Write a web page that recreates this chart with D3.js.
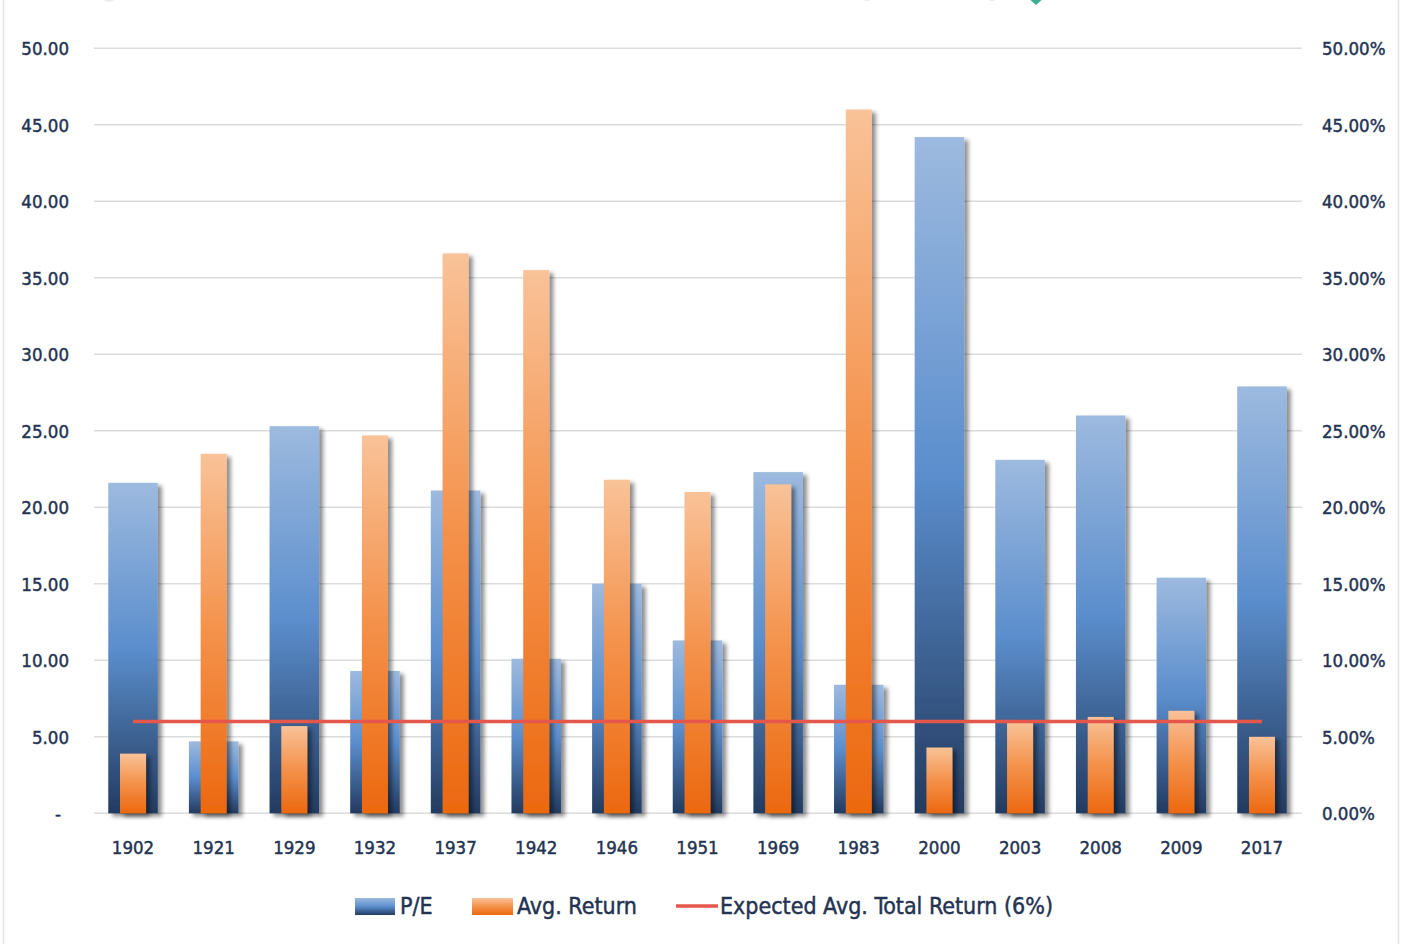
<!DOCTYPE html>
<html>
<head>
    <meta charset="UTF-8">
    <title>P/E vs Avg. Return</title>
    <style>
        body { margin: 0; background: #fff; }
        text { font-family: "DejaVu Sans Condensed", "Liberation Sans Narrow", "Open Sans", sans-serif; fill: #243352; stroke: #243352; stroke-width: 0.45px; }
    </style>
</head>
<body>
    <script src="https://cdn.jsdelivr.net/npm/d3@7"></script>
    <svg id="chart" width="1410" height="944"></svg>

    <script>
        // data
        const years = ["1902", "1921", "1929", "1932", "1937", "1942", "1946", "1951", "1969", "1983", "2000", "2003", "2008", "2009", "2017"];
        const pe = [21.6, 4.7, 25.3, 9.3, 21.1, 10.1, 15.0, 11.3, 22.3, 8.4, 44.2, 23.1, 26.0, 15.4, 27.9];
        const avgReturn = [3.9, 23.5, 5.7, 24.7, 36.6, 35.5, 21.8, 21.0, 21.5, 46.0, 4.3, 6.0, 6.3, 6.7, 5.0];
        const expectedReturn = 6;
        const leftTicks = [0, 5, 10, 15, 20, 25, 30, 35, 40, 45, 50];
        const rightTicks = [0, 5, 10, 15, 20, 25, 30, 35, 40, 45, 50];
        const legendItems = ["P/E", "Avg. Return", "Expected Avg. Total Return (6%)"];

        const svg = d3.select("#chart");
        const width = 1410, height = 944;

        const x = d3.scaleBand().domain(years).range([92.7, 1302.3]);
        const yLeft = d3.scaleLinear().domain([0, 50]).range([813.3, 48.3]);
        const yRight = d3.scaleLinear().domain([0, 50]).range([813.3, 48.3]);

        const defs = svg.append("defs");

        // blue gradient, per bar
        const gBlue = defs.append("linearGradient").attr("id", "gBlue")
            .attr("x1", 0).attr("y1", 0).attr("x2", 0).attr("y2", 1);
        gBlue.append("stop").attr("offset", "0%").attr("stop-color", "#9dbadf");
        gBlue.append("stop").attr("offset", "50%").attr("stop-color", "#5b8ecd");
        gBlue.append("stop").attr("offset", "100%").attr("stop-color", "#233b60");

        const gOrange = defs.append("linearGradient").attr("id", "gOrange")
            .attr("x1", 0).attr("y1", 0).attr("x2", 0).attr("y2", 1);
        gOrange.append("stop").attr("offset", "0%").attr("stop-color", "#f9c298");
        gOrange.append("stop").attr("offset", "50%").attr("stop-color", "#f4914a");
        gOrange.append("stop").attr("offset", "100%").attr("stop-color", "#ec680f");

        const shadow = defs.append("filter").attr("id", "shadow")
            .attr("x", "-20%").attr("y", "-5%").attr("width", "160%").attr("height", "115%");
        shadow.append("feDropShadow").attr("dx", 4).attr("dy", 3).attr("stdDeviation", 2)
            .attr("flood-color", "#000").attr("flood-opacity", 0.45);

        // frame
        svg.append("line").attr("x1", 3.5).attr("x2", 3.5).attr("y1", 0).attr("y2", height)
            .attr("stroke", "#e2e2e2").attr("stroke-width", 1.5);
        svg.append("line").attr("x1", 1398.5).attr("x2", 1398.5).attr("y1", 0).attr("y2", height)
            .attr("stroke", "#e2e2e2").attr("stroke-width", 1.5);

        // bits of the cut-off header
        svg.append("circle").attr("cx", 109).attr("cy", -6).attr("r", 8).attr("fill", "#ececec");
        svg.append("circle").attr("cx", 867).attr("cy", -6).attr("r", 7).attr("fill", "#ececec");
        svg.append("circle").attr("cx", 992).attr("cy", -6).attr("r", 7).attr("fill", "#ececec");
        svg.append("path").attr("d", "M1027,-3 L1036,5 L1045,-3 Z").attr("fill", "#3fae8e");

        // gridlines
        svg.append("g").selectAll("line").data(leftTicks).join("line")
            .attr("x1", 94).attr("x2", 1302)
            .attr("y1", d => yLeft(d)).attr("y2", d => yLeft(d))
            .attr("stroke", "#dcdcdc").attr("stroke-width", 1.5);

        // left axis
        const leftAxis = svg.append("g").attr("transform", "translate(69,0)")
            .call(d3.axisLeft(yLeft).tickValues(leftTicks).tickSize(0).tickPadding(0)
                .tickFormat(d => d === 0 ? "-" : d3.format(".2f")(d)));
        leftAxis.select(".domain").remove();
        leftAxis.selectAll("text").style("font-size", "18.5px").attr("dy", "0.35em")
            .attr("x", d => d === 0 ? -8 : 0);

        // right axis
        const rightAxis = svg.append("g").attr("transform", "translate(1322,0)")
            .call(d3.axisRight(yRight).tickValues(rightTicks).tickSize(0).tickPadding(0)
                .tickFormat(d => d3.format(".2f")(d) + "%"));
        rightAxis.select(".domain").remove();
        rightAxis.selectAll("text").style("font-size", "18.5px").attr("dy", "0.35em");

        // bottom axis
        const bottomAxis = svg.append("g").attr("transform", "translate(0,813)")
            .call(d3.axisBottom(x).tickSize(0).tickPadding(0));
        bottomAxis.select(".domain").remove();
        bottomAxis.selectAll("text").style("font-size", "18.5px").attr("dy", "0").attr("y", 41);

        const bw = x.bandwidth();

        // P/E bars
        svg.append("g").selectAll("rect").data(years).join("rect")
            .attr("x", (d, i) => x(d) + (bw - 49.5) / 2)
            .attr("width", 49.5)
            .attr("y", (d, i) => yLeft(pe[i]))
            .attr("height", (d, i) => yLeft(0) - yLeft(pe[i]))
            .attr("fill", "url(#gBlue)")
            .attr("filter", "url(#shadow)");

        // Avg. return bars
        svg.append("g").selectAll("rect").data(years).join("rect")
            .attr("x", (d, i) => x(d) + (bw - 26) / 2)
            .attr("width", 26)
            .attr("y", (d, i) => yRight(avgReturn[i]))
            .attr("height", (d, i) => yRight(0) - yRight(avgReturn[i]))
            .attr("fill", "url(#gOrange)")
            .attr("filter", "url(#shadow)");

        // expected return line
        const line = d3.line().x(d => x(d) + bw / 2).y(() => yRight(expectedReturn));
        svg.append("path").datum(years).attr("d", line)
            .attr("fill", "none").attr("stroke", "#e5574a").attr("stroke-width", 3.5);

        // legend
        const legend = svg.append("g").attr("transform", "translate(0,906)");
        legend.append("rect").attr("x", 355).attr("y", -8).attr("width", 40).attr("height", 17).attr("fill", "url(#gBlue)");
        legend.append("text").attr("x", 400).attr("y", 0).attr("dy", "0.35em").style("font-size", "23px").text(legendItems[0]);
        legend.append("rect").attr("x", 472).attr("y", -8).attr("width", 41).attr("height", 17).attr("fill", "url(#gOrange)");
        legend.append("text").attr("x", 517).attr("y", 0).attr("dy", "0.35em").style("font-size", "23px").text(legendItems[1]);
        legend.append("line").attr("x1", 676).attr("x2", 718).attr("y1", 0).attr("y2", 0)
            .attr("stroke", "#e5574a").attr("stroke-width", 3.5);
        legend.append("text").attr("x", 720).attr("y", 0).attr("dy", "0.35em").style("font-size", "23px").text(legendItems[2]);
    </script>
</body>
</html>
